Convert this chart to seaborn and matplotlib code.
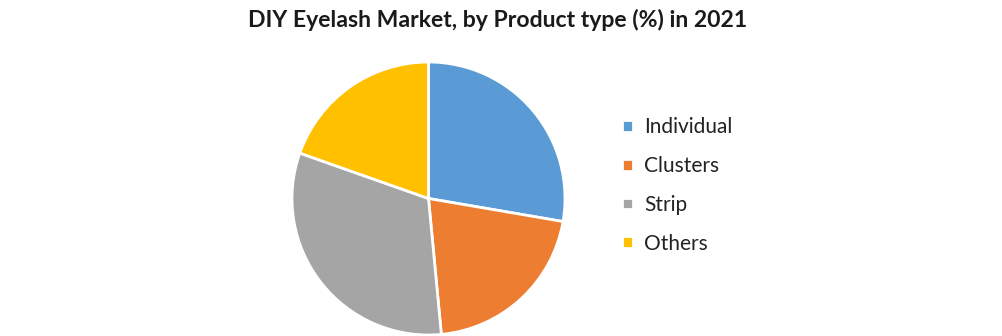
import matplotlib
matplotlib.use("Agg")
import matplotlib.pyplot as plt
import seaborn as sns

sns.set_theme(style="white")
plt.rcParams['font.family'] = ['Lato', 'DejaVu Sans']

categories = ["Individual", "Clusters", "Strip", "Others"]
shares = [27.7, 20.8, 31.9, 19.6]
colors = ["#5B9BD5", "#ED7D31", "#A5A5A5", "#FFC000"]
title = "DIY Eyelash Market, by Product type (%) in 2021"

W, H = 1002, 336
fig = plt.figure(figsize=(W / 100, H / 100), dpi=100)
fig.patch.set_facecolor("white")

cx, cy, r = 428.5, 198.5, 136.5
ax = fig.add_axes([(cx - r) / W, (H - cy - r) / H, 2 * r / W, 2 * r / H])
wedges, _ = ax.pie(shares, colors=colors, startangle=90, counterclock=False,
                   radius=1, wedgeprops=dict(edgecolor="white", linewidth=2))
ax.set_xlim(-1.0, 1.0)
ax.set_ylim(-1.0, 1.0)
ax.set_aspect("equal")
ax.axis("off")

fig.text(497.5 / W, 1 - 20 / H, title, ha="center", va="center",
         fontsize=16.6, fontweight="bold", color="#1a1a1a")

fig.legend(wedges, categories, loc="center left",
           bbox_to_anchor=(603.5 / W, 1 - 185.5 / H), frameon=False,
           fontsize=15, handlelength=0.5, handleheight=0.5,
           handletextpad=0.55, labelspacing=0.9, labelcolor="#222222")

fig.savefig("out.png", dpi=100, facecolor="white")
